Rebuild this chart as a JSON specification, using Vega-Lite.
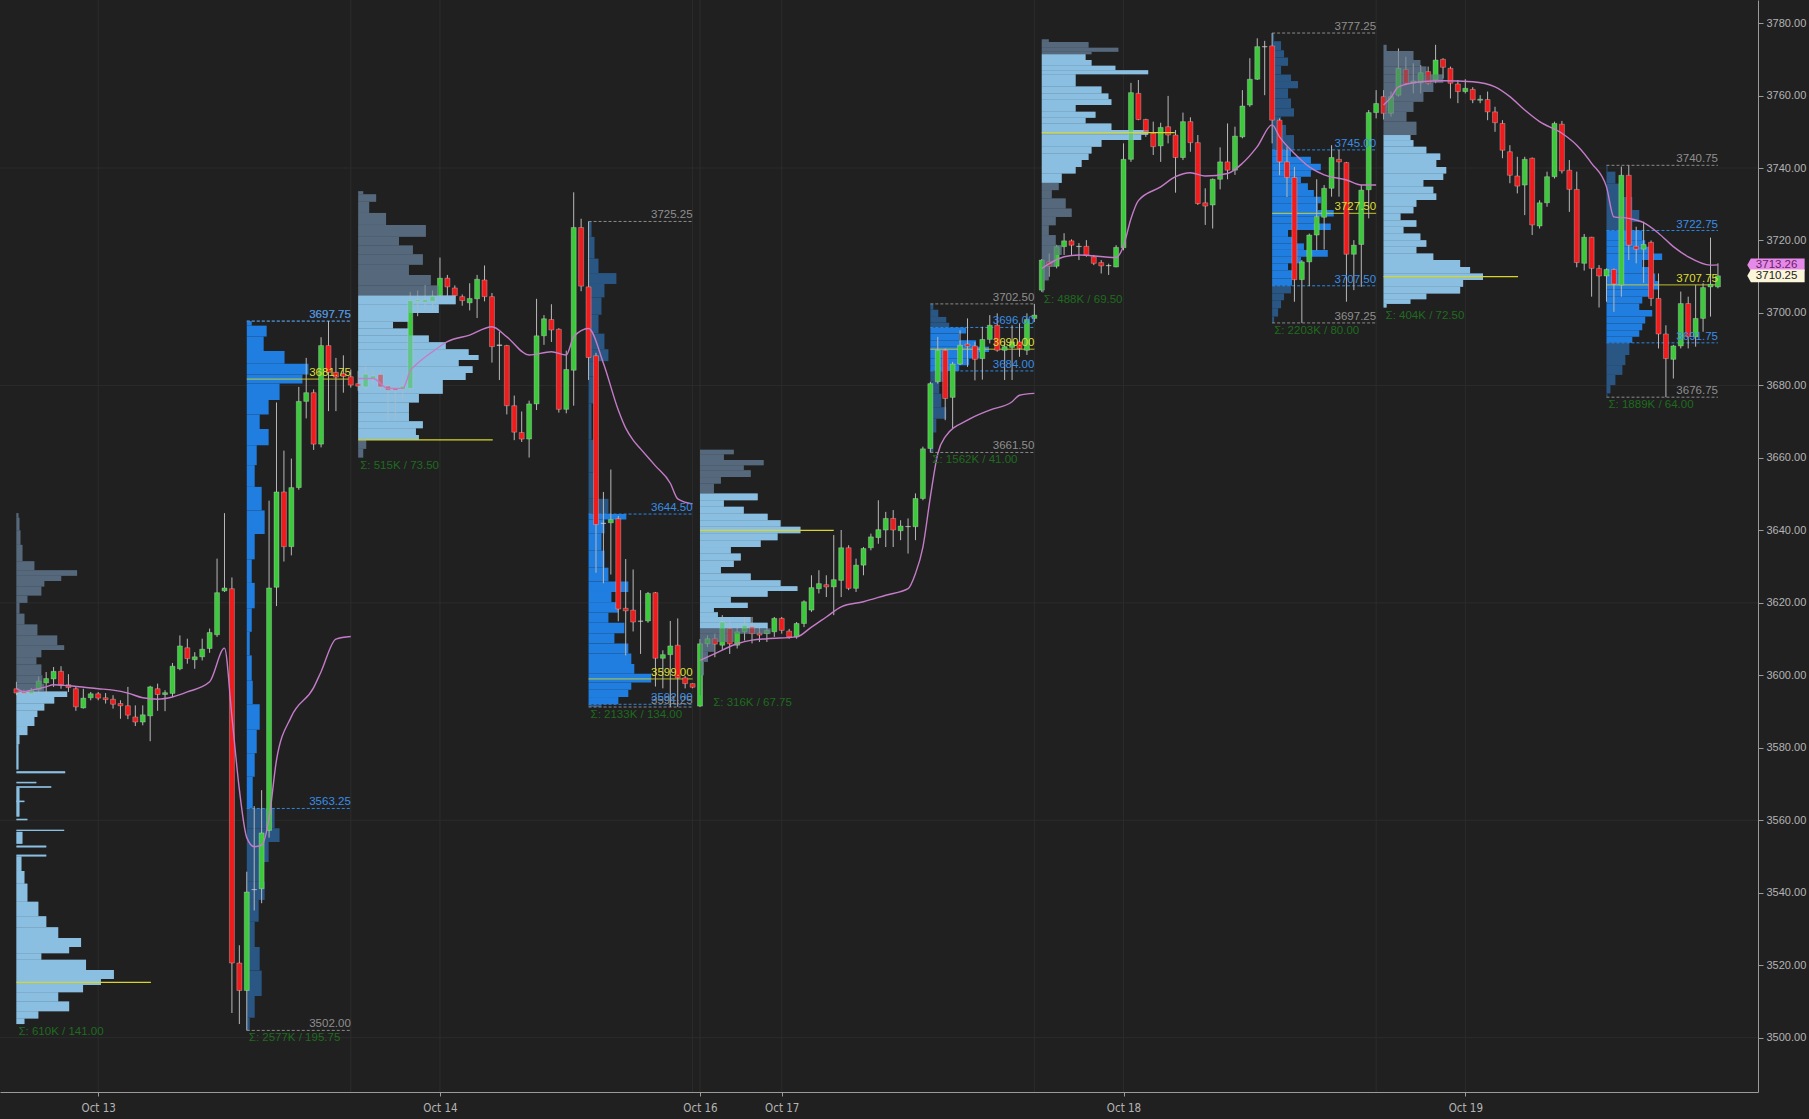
{
  "$schema": "https://vega.github.io/schema/vega-lite/v6.json",
  "width": 1758,
  "height": 1092,
  "autosize": {"type": "none"},
  "padding": {"left": 0, "top": 0, "right": 51, "bottom": 27},
  "background": "#202020",
  "config": {"view": {"stroke": null}},
  "datasets": {
    "candles": [
      {"i":0,"o":3596.3,"h":3598.2,"l":3594.5,"c":3595.1},
      {"i":1,"o":3595.5,"h":3596.0,"l":3594.5,"c":3595.0},
      {"i":2,"o":3594.9,"h":3596.5,"l":3594.5,"c":3595.8},
      {"i":3,"o":3596.0,"h":3599.7,"l":3595.0,"c":3598.4},
      {"i":4,"o":3597.9,"h":3600.9,"l":3594.5,"c":3599.1},
      {"i":5,"o":3599.0,"h":3602.3,"l":3596.8,"c":3601.1},
      {"i":6,"o":3601.1,"h":3602.5,"l":3596.3,"c":3597.4},
      {"i":7,"o":3597.4,"h":3600.3,"l":3595.4,"c":3596.6},
      {"i":8,"o":3596.3,"h":3596.8,"l":3590.2,"c":3591.3},
      {"i":9,"o":3591.0,"h":3596.3,"l":3590.8,"c":3593.7},
      {"i":10,"o":3593.8,"h":3595.4,"l":3593.1,"c":3594.9},
      {"i":11,"o":3594.9,"h":3595.4,"l":3593.1,"c":3593.7},
      {"i":12,"o":3593.8,"h":3595.1,"l":3592.2,"c":3593.3},
      {"i":13,"o":3593.4,"h":3594.5,"l":3590.8,"c":3592.0},
      {"i":14,"o":3592.2,"h":3593.1,"l":3588.0,"c":3591.6},
      {"i":15,"o":3591.6,"h":3596.8,"l":3587.9,"c":3589.0},
      {"i":16,"o":3588.5,"h":3591.7,"l":3586.0,"c":3587.1},
      {"i":17,"o":3587.1,"h":3591.7,"l":3586.2,"c":3589.1},
      {"i":18,"o":3588.8,"h":3597.1,"l":3581.8,"c":3596.8},
      {"i":19,"o":3596.3,"h":3597.7,"l":3590.2,"c":3594.7},
      {"i":20,"o":3594.7,"h":3595.9,"l":3590.1,"c":3595.2},
      {"i":21,"o":3595.0,"h":3603.4,"l":3594.0,"c":3602.5},
      {"i":22,"o":3601.8,"h":3611.0,"l":3601.4,"c":3608.1},
      {"i":23,"o":3607.6,"h":3610.1,"l":3603.2,"c":3604.6},
      {"i":24,"o":3604.3,"h":3606.4,"l":3601.8,"c":3605.1},
      {"i":25,"o":3605.1,"h":3610.1,"l":3604.1,"c":3607.2},
      {"i":26,"o":3607.4,"h":3612.9,"l":3606.2,"c":3611.8},
      {"i":27,"o":3611.2,"h":3632.2,"l":3610.6,"c":3622.8},
      {"i":28,"o":3623.3,"h":3644.75,"l":3623.0,"c":3624.1},
      {"i":29,"o":3623.9,"h":3627.0,"l":3506.8,"c":3520.6},
      {"i":30,"o":3520.6,"h":3525.5,"l":3503.75,"c":3513.0},
      {"i":31,"o":3513.0,"h":3545.8,"l":3502.0,"c":3540.2},
      {"i":32,"o":3540.8,"h":3563.9,"l":3535.1,"c":3540.9},
      {"i":33,"o":3541.1,"h":3568.3,"l":3537.1,"c":3556.5},
      {"i":34,"o":3557.2,"h":3648.2,"l":3555.2,"c":3624.1},
      {"i":35,"o":3624.3,"h":3675.3,"l":3619.1,"c":3650.6},
      {"i":36,"o":3650.6,"h":3662.0,"l":3631.4,"c":3635.5},
      {"i":37,"o":3635.5,"h":3659.8,"l":3633.1,"c":3651.8},
      {"i":38,"o":3651.8,"h":3679.6,"l":3651.2,"c":3675.6},
      {"i":39,"o":3675.6,"h":3687.6,"l":3670.9,"c":3678.0},
      {"i":40,"o":3678.0,"h":3678.9,"l":3662.2,"c":3663.8},
      {"i":41,"o":3663.8,"h":3693.3,"l":3662.9,"c":3691.0},
      {"i":42,"o":3691.0,"h":3697.75,"l":3672.9,"c":3683.6},
      {"i":43,"o":3683.6,"h":3687.6,"l":3672.9,"c":3682.3},
      {"i":44,"o":3683.3,"h":3688.3,"l":3678.0,"c":3682.5},
      {"i":45,"o":3682.4,"h":3684.4,"l":3679.4,"c":3680.1},
      {"i":46,"o":3680.5,"h":3684.0,"l":3678.5,"c":3679.8},
      {"i":47,"o":3679.6,"h":3685.3,"l":3678.7,"c":3683.1},
      {"i":48,"o":3681.8,"h":3684.5,"l":3680.0,"c":3682.6},
      {"i":49,"o":3683.0,"h":3684.0,"l":3678.7,"c":3679.6},
      {"i":50,"o":3679.8,"h":3680.5,"l":3670.1,"c":3678.7},
      {"i":51,"o":3679.2,"h":3680.0,"l":3670.6,"c":3678.7},
      {"i":52,"o":3678.9,"h":3683.0,"l":3675.8,"c":3679.8},
      {"i":53,"o":3679.2,"h":3705.8,"l":3678.7,"c":3703.4},
      {"i":54,"o":3703.2,"h":3706.2,"l":3699.1,"c":3703.6},
      {"i":55,"o":3703.0,"h":3707.7,"l":3701.0,"c":3703.6},
      {"i":56,"o":3703.2,"h":3706.2,"l":3700.7,"c":3704.6},
      {"i":57,"o":3704.8,"h":3715.3,"l":3704.3,"c":3709.6},
      {"i":58,"o":3709.6,"h":3710.5,"l":3704.3,"c":3707.2},
      {"i":59,"o":3706.9,"h":3707.6,"l":3704.3,"c":3704.8},
      {"i":60,"o":3704.5,"h":3705.1,"l":3702.0,"c":3703.4},
      {"i":61,"o":3702.8,"h":3708.2,"l":3700.7,"c":3704.0},
      {"i":62,"o":3703.9,"h":3710.5,"l":3698.6,"c":3709.3},
      {"i":63,"o":3709.1,"h":3713.1,"l":3703.2,"c":3704.5},
      {"i":64,"o":3704.5,"h":3705.5,"l":3686.3,"c":3690.7},
      {"i":65,"o":3691.0,"h":3694.8,"l":3681.5,"c":3691.2},
      {"i":66,"o":3691.0,"h":3691.2,"l":3672.0,"c":3674.4},
      {"i":67,"o":3674.4,"h":3677.2,"l":3664.9,"c":3667.1},
      {"i":68,"o":3667.0,"h":3672.8,"l":3664.4,"c":3665.2},
      {"i":69,"o":3665.2,"h":3675.8,"l":3660.1,"c":3674.9},
      {"i":70,"o":3674.9,"h":3703.9,"l":3673.2,"c":3693.7},
      {"i":71,"o":3693.7,"h":3699.4,"l":3691.2,"c":3698.4},
      {"i":72,"o":3698.2,"h":3702.4,"l":3692.0,"c":3695.3},
      {"i":73,"o":3695.5,"h":3695.8,"l":3672.5,"c":3673.4},
      {"i":74,"o":3673.4,"h":3689.6,"l":3672.3,"c":3684.4},
      {"i":75,"o":3684.2,"h":3733.3,"l":3674.4,"c":3723.6},
      {"i":76,"o":3723.6,"h":3726.0,"l":3706.0,"c":3707.4},
      {"i":77,"o":3707.2,"h":3725.25,"l":3681.5,"c":3687.7},
      {"i":78,"o":3688.2,"h":3689.0,"l":3628.3,"c":3641.6},
      {"i":79,"o":3641.9,"h":3650.6,"l":3625.4,"c":3642.0},
      {"i":80,"o":3642.1,"h":3656.8,"l":3627.8,"c":3643.0},
      {"i":81,"o":3643.2,"h":3644.0,"l":3614.9,"c":3618.3},
      {"i":82,"o":3618.5,"h":3632.1,"l":3605.5,"c":3617.8},
      {"i":83,"o":3618.0,"h":3629.2,"l":3612.1,"c":3614.7},
      {"i":84,"o":3615.0,"h":3623.5,"l":3605.9,"c":3614.9},
      {"i":85,"o":3615.0,"h":3623.0,"l":3614.5,"c":3622.6},
      {"i":86,"o":3622.8,"h":3623.0,"l":3596.9,"c":3604.7},
      {"i":87,"o":3604.7,"h":3606.9,"l":3596.4,"c":3605.7},
      {"i":88,"o":3605.7,"h":3615.0,"l":3591.25,"c":3608.1},
      {"i":89,"o":3608.3,"h":3615.7,"l":3591.3,"c":3599.3},
      {"i":90,"o":3599.3,"h":3599.8,"l":3596.4,"c":3597.7},
      {"i":91,"o":3597.7,"h":3597.8,"l":3596.4,"c":3596.7},
      {"i":92,"o":3591.5,"h":3610.0,"l":3591.25,"c":3608.7},
      {"i":93,"o":3608.7,"h":3611.0,"l":3607.8,"c":3610.1},
      {"i":94,"o":3610.1,"h":3611.5,"l":3605.0,"c":3608.6},
      {"i":95,"o":3608.3,"h":3616.6,"l":3607.0,"c":3614.7},
      {"i":96,"o":3612.9,"h":3615.3,"l":3605.9,"c":3608.7},
      {"i":97,"o":3608.3,"h":3613.8,"l":3607.4,"c":3612.0},
      {"i":98,"o":3612.0,"h":3616.1,"l":3609.6,"c":3613.8},
      {"i":99,"o":3613.4,"h":3616.1,"l":3608.8,"c":3611.5},
      {"i":100,"o":3611.6,"h":3613.3,"l":3609.2,"c":3611.1},
      {"i":101,"o":3611.5,"h":3613.3,"l":3609.2,"c":3612.4},
      {"i":102,"o":3612.0,"h":3616.1,"l":3610.6,"c":3615.7},
      {"i":103,"o":3615.7,"h":3616.1,"l":3611.5,"c":3612.4},
      {"i":104,"o":3612.2,"h":3612.8,"l":3610.1,"c":3610.6},
      {"i":105,"o":3610.6,"h":3614.7,"l":3610.1,"c":3614.3},
      {"i":106,"o":3614.3,"h":3620.7,"l":3613.3,"c":3620.3},
      {"i":107,"o":3618.0,"h":3627.6,"l":3617.5,"c":3624.2},
      {"i":108,"o":3623.9,"h":3629.0,"l":3622.6,"c":3625.3},
      {"i":109,"o":3625.0,"h":3627.6,"l":3621.6,"c":3624.4},
      {"i":110,"o":3624.4,"h":3638.7,"l":3616.6,"c":3626.4},
      {"i":111,"o":3626.2,"h":3640.1,"l":3621.6,"c":3635.2},
      {"i":112,"o":3635.2,"h":3635.9,"l":3623.5,"c":3624.0},
      {"i":113,"o":3624.0,"h":3632.2,"l":3623.0,"c":3630.4},
      {"i":114,"o":3630.4,"h":3635.4,"l":3627.6,"c":3635.0},
      {"i":115,"o":3635.2,"h":3639.1,"l":3634.5,"c":3638.2},
      {"i":116,"o":3638.0,"h":3648.3,"l":3636.3,"c":3640.2},
      {"i":117,"o":3640.1,"h":3645.1,"l":3635.4,"c":3643.3},
      {"i":118,"o":3643.3,"h":3645.6,"l":3635.4,"c":3640.1},
      {"i":119,"o":3639.9,"h":3642.8,"l":3637.3,"c":3641.2},
      {"i":120,"o":3641.1,"h":3643.3,"l":3633.6,"c":3641.0},
      {"i":121,"o":3641.0,"h":3650.2,"l":3637.3,"c":3648.8},
      {"i":122,"o":3648.8,"h":3663.1,"l":3648.3,"c":3662.5},
      {"i":123,"o":3662.6,"h":3681.0,"l":3661.5,"c":3680.5},
      {"i":124,"o":3681.0,"h":3693.4,"l":3680.5,"c":3689.7},
      {"i":125,"o":3689.7,"h":3690.2,"l":3670.4,"c":3676.4},
      {"i":126,"o":3676.7,"h":3686.5,"l":3668.1,"c":3685.9},
      {"i":127,"o":3685.9,"h":3695.2,"l":3685.6,"c":3691.1},
      {"i":128,"o":3691.4,"h":3698.5,"l":3685.1,"c":3690.8},
      {"i":129,"o":3690.9,"h":3692.0,"l":3681.4,"c":3687.2},
      {"i":130,"o":3687.4,"h":3696.2,"l":3681.6,"c":3692.7},
      {"i":131,"o":3692.7,"h":3699.4,"l":3691.6,"c":3696.6},
      {"i":132,"o":3696.6,"h":3699.9,"l":3689.3,"c":3689.7},
      {"i":133,"o":3689.7,"h":3692.5,"l":3681.5,"c":3690.7},
      {"i":134,"o":3690.5,"h":3696.6,"l":3681.5,"c":3692.0},
      {"i":135,"o":3692.0,"h":3697.1,"l":3687.9,"c":3690.2},
      {"i":136,"o":3689.7,"h":3699.9,"l":3688.4,"c":3698.2},
      {"i":137,"o":3698.5,"h":3702.5,"l":3697.5,"c":3699.4},
      {"i":138,"o":3706.3,"h":3714.9,"l":3705.8,"c":3714.6},
      {"i":139,"o":3714.1,"h":3716.4,"l":3710.0,"c":3712.9},
      {"i":140,"o":3712.9,"h":3718.8,"l":3712.3,"c":3718.3},
      {"i":141,"o":3718.3,"h":3722.0,"l":3716.0,"c":3719.9},
      {"i":142,"o":3719.9,"h":3720.3,"l":3716.0,"c":3718.7},
      {"i":143,"o":3718.4,"h":3719.3,"l":3714.6,"c":3718.3},
      {"i":144,"o":3718.4,"h":3720.1,"l":3715.5,"c":3715.9},
      {"i":145,"o":3715.5,"h":3716.0,"l":3713.2,"c":3713.7},
      {"i":146,"o":3713.9,"h":3714.6,"l":3710.9,"c":3713.0},
      {"i":147,"o":3713.1,"h":3713.6,"l":3710.5,"c":3713.0},
      {"i":148,"o":3712.7,"h":3718.7,"l":3712.6,"c":3718.1},
      {"i":149,"o":3718.0,"h":3746.8,"l":3717.3,"c":3742.4},
      {"i":150,"o":3742.4,"h":3763.5,"l":3741.7,"c":3760.8},
      {"i":151,"o":3760.6,"h":3764.3,"l":3753.2,"c":3753.4},
      {"i":152,"o":3753.4,"h":3753.6,"l":3748.6,"c":3749.6},
      {"i":153,"o":3749.6,"h":3752.8,"l":3743.6,"c":3745.9},
      {"i":154,"o":3746.1,"h":3752.5,"l":3741.7,"c":3751.2},
      {"i":155,"o":3751.4,"h":3759.9,"l":3746.8,"c":3749.1},
      {"i":156,"o":3749.1,"h":3750.5,"l":3733.2,"c":3742.9},
      {"i":157,"o":3742.9,"h":3755.3,"l":3742.2,"c":3752.8},
      {"i":158,"o":3752.8,"h":3754.0,"l":3744.5,"c":3747.0},
      {"i":159,"o":3747.0,"h":3749.1,"l":3729.8,"c":3730.2},
      {"i":160,"o":3730.4,"h":3734.4,"l":3724.3,"c":3729.5},
      {"i":161,"o":3729.8,"h":3737.1,"l":3723.3,"c":3736.9},
      {"i":162,"o":3736.9,"h":3745.7,"l":3734.1,"c":3741.7},
      {"i":163,"o":3741.7,"h":3752.3,"l":3736.9,"c":3739.4},
      {"i":164,"o":3739.4,"h":3751.4,"l":3738.1,"c":3748.8},
      {"i":165,"o":3748.6,"h":3761.5,"l":3748.2,"c":3757.1},
      {"i":166,"o":3757.4,"h":3770.3,"l":3756.9,"c":3764.5},
      {"i":167,"o":3764.5,"h":3775.8,"l":3764.3,"c":3773.5},
      {"i":168,"o":3773.5,"h":3775.1,"l":3760.1,"c":3773.4},
      {"i":169,"o":3773.7,"h":3777.25,"l":3746.8,"c":3753.2},
      {"i":170,"o":3753.2,"h":3753.7,"l":3738.0,"c":3741.7},
      {"i":171,"o":3741.7,"h":3745.9,"l":3732.0,"c":3737.4},
      {"i":172,"o":3737.4,"h":3740.3,"l":3703.1,"c":3709.2},
      {"i":173,"o":3709.2,"h":3714.6,"l":3697.25,"c":3714.1},
      {"i":174,"o":3714.1,"h":3721.9,"l":3707.4,"c":3721.5},
      {"i":175,"o":3721.5,"h":3736.9,"l":3717.3,"c":3726.6},
      {"i":176,"o":3726.4,"h":3735.3,"l":3717.5,"c":3734.4},
      {"i":177,"o":3734.4,"h":3746.3,"l":3732.1,"c":3742.9},
      {"i":178,"o":3742.4,"h":3745.0,"l":3732.1,"c":3741.7},
      {"i":179,"o":3741.5,"h":3741.7,"l":3703.1,"c":3716.2},
      {"i":180,"o":3716.2,"h":3720.1,"l":3706.3,"c":3718.7},
      {"i":181,"o":3718.9,"h":3735.3,"l":3707.2,"c":3733.9},
      {"i":182,"o":3734.0,"h":3756.0,"l":3726.1,"c":3755.3},
      {"i":183,"o":3755.3,"h":3761.5,"l":3753.7,"c":3757.8},
      {"i":184,"o":3759.7,"h":3761.5,"l":3753.4,"c":3755.1},
      {"i":185,"o":3755.1,"h":3761.1,"l":3754.2,"c":3759.7},
      {"i":186,"o":3760.1,"h":3773.0,"l":3759.7,"c":3767.5},
      {"i":187,"o":3767.2,"h":3770.7,"l":3762.9,"c":3763.4},
      {"i":188,"o":3763.4,"h":3768.9,"l":3760.6,"c":3764.0},
      {"i":189,"o":3763.5,"h":3768.4,"l":3760.6,"c":3766.3},
      {"i":190,"o":3766.6,"h":3768.0,"l":3762.9,"c":3763.4},
      {"i":191,"o":3764.3,"h":3774.0,"l":3763.4,"c":3769.8},
      {"i":192,"o":3770.0,"h":3770.3,"l":3764.7,"c":3767.8},
      {"i":193,"o":3767.5,"h":3768.0,"l":3759.2,"c":3763.4},
      {"i":194,"o":3763.2,"h":3764.3,"l":3757.9,"c":3761.1},
      {"i":195,"o":3761.1,"h":3764.5,"l":3760.6,"c":3762.0},
      {"i":196,"o":3761.7,"h":3762.3,"l":3757.9,"c":3758.8},
      {"i":197,"o":3758.7,"h":3760.1,"l":3757.9,"c":3759.0},
      {"i":198,"o":3758.9,"h":3761.1,"l":3753.2,"c":3755.5},
      {"i":199,"o":3755.5,"h":3756.9,"l":3750.0,"c":3752.5},
      {"i":200,"o":3752.3,"h":3753.2,"l":3742.7,"c":3744.9},
      {"i":201,"o":3744.5,"h":3746.3,"l":3735.8,"c":3738.0},
      {"i":202,"o":3737.8,"h":3743.1,"l":3733.0,"c":3735.0},
      {"i":203,"o":3735.3,"h":3743.1,"l":3727.0,"c":3742.4},
      {"i":204,"o":3742.7,"h":3742.9,"l":3721.5,"c":3724.3},
      {"i":205,"o":3724.0,"h":3731.1,"l":3723.3,"c":3730.4},
      {"i":206,"o":3730.4,"h":3739.0,"l":3729.3,"c":3737.6},
      {"i":207,"o":3737.6,"h":3752.8,"l":3737.1,"c":3752.3},
      {"i":208,"o":3752.1,"h":3753.0,"l":3738.5,"c":3739.2},
      {"i":209,"o":3739.4,"h":3742.2,"l":3727.9,"c":3734.1},
      {"i":210,"o":3734.1,"h":3739.0,"l":3712.6,"c":3713.9},
      {"i":211,"o":3713.7,"h":3721.8,"l":3711.7,"c":3720.9},
      {"i":212,"o":3720.9,"h":3721.0,"l":3704.5,"c":3712.3},
      {"i":213,"o":3712.3,"h":3713.2,"l":3701.5,"c":3710.2},
      {"i":214,"o":3710.2,"h":3712.3,"l":3703.1,"c":3712.0},
      {"i":215,"o":3712.0,"h":3712.3,"l":3700.3,"c":3708.0},
      {"i":216,"o":3707.7,"h":3740.4,"l":3704.5,"c":3738.0},
      {"i":217,"o":3738.0,"h":3740.75,"l":3714.6,"c":3718.7},
      {"i":218,"o":3718.4,"h":3723.8,"l":3713.7,"c":3717.6},
      {"i":219,"o":3717.6,"h":3725.2,"l":3708.3,"c":3718.9},
      {"i":220,"o":3719.5,"h":3720.0,"l":3701.9,"c":3704.0},
      {"i":221,"o":3704.0,"h":3710.9,"l":3690.2,"c":3694.2},
      {"i":222,"o":3694.2,"h":3696.6,"l":3676.75,"c":3687.4},
      {"i":223,"o":3687.2,"h":3691.2,"l":3681.9,"c":3690.9},
      {"i":224,"o":3690.9,"h":3705.9,"l":3690.2,"c":3702.6},
      {"i":225,"o":3702.6,"h":3704.5,"l":3690.2,"c":3693.4},
      {"i":226,"o":3693.4,"h":3707.7,"l":3690.7,"c":3698.5},
      {"i":227,"o":3698.5,"h":3708.2,"l":3694.8,"c":3707.0},
      {"i":228,"o":3707.2,"h":3720.8,"l":3699.0,"c":3707.9},
      {"i":229,"o":3707.2,"h":3713.7,"l":3706.8,"c":3710.25}
    ],
    "profile": [
      {"t0":0,"lo":3643.5,"hi":3644.75,"v":2,"z":"eth_out"},
      {"t0":0,"lo":3640,"hi":3643.5,"v":3,"z":"eth_out"},
      {"t0":0,"lo":3636,"hi":3640,"v":4,"z":"eth_out"},
      {"t0":0,"lo":3631.5,"hi":3636,"v":6,"z":"eth_out"},
      {"t0":0,"lo":3629,"hi":3631.5,"v":18,"z":"eth_out"},
      {"t0":0,"lo":3627.5,"hi":3629,"v":61,"z":"eth_out"},
      {"t0":0,"lo":3626,"hi":3627.5,"v":45,"z":"eth_out"},
      {"t0":0,"lo":3624.5,"hi":3626,"v":28,"z":"eth_out"},
      {"t0":0,"lo":3622,"hi":3624.5,"v":25,"z":"eth_out"},
      {"t0":0,"lo":3620,"hi":3622,"v":11,"z":"eth_out"},
      {"t0":0,"lo":3617,"hi":3620,"v":3,"z":"eth_out"},
      {"t0":0,"lo":3614,"hi":3617,"v":8,"z":"eth_out"},
      {"t0":0,"lo":3611,"hi":3614,"v":21,"z":"eth_out"},
      {"t0":0,"lo":3608.3,"hi":3611,"v":41,"z":"eth_out"},
      {"t0":0,"lo":3607,"hi":3608.3,"v":48,"z":"eth_out"},
      {"t0":0,"lo":3605,"hi":3607,"v":25,"z":"eth_out"},
      {"t0":0,"lo":3603,"hi":3605,"v":20,"z":"eth_out"},
      {"t0":0,"lo":3600,"hi":3603,"v":25,"z":"eth_out"},
      {"t0":0,"lo":3597.7,"hi":3600,"v":26,"z":"eth_out"},
      {"t0":0,"lo":3595.5,"hi":3597.7,"v":28,"z":"eth_out"},
      {"t0":0,"lo":3594,"hi":3595.5,"v":51,"z":"eth_va"},
      {"t0":0,"lo":3592.2,"hi":3594,"v":38,"z":"eth_va"},
      {"t0":0,"lo":3590.3,"hi":3592.2,"v":28,"z":"eth_va"},
      {"t0":0,"lo":3588.5,"hi":3590.3,"v":21,"z":"eth_va"},
      {"t0":0,"lo":3586,"hi":3588.5,"v":18,"z":"eth_va"},
      {"t0":0,"lo":3583.5,"hi":3586,"v":11,"z":"eth_va"},
      {"t0":0,"lo":3581,"hi":3583.5,"v":3,"z":"eth_va"},
      {"t0":0,"lo":3574,"hi":3581,"v":2,"z":"eth_va"},
      {"t0":0,"lo":3573,"hi":3573.5,"v":49,"z":"eth_va"},
      {"t0":0,"lo":3570.2,"hi":3570.6,"v":20,"z":"eth_va"},
      {"t0":0,"lo":3569,"hi":3569.4,"v":35,"z":"eth_va"},
      {"t0":0,"lo":3561,"hi":3569,"v":3,"z":"eth_va"},
      {"t0":0,"lo":3565,"hi":3565.4,"v":8,"z":"eth_va"},
      {"t0":0,"lo":3560,"hi":3560.4,"v":11,"z":"eth_va"},
      {"t0":0,"lo":3557,"hi":3557.4,"v":48,"z":"eth_va"},
      {"t0":0,"lo":3553.5,"hi":3556.8,"v":6,"z":"eth_va"},
      {"t0":0,"lo":3552.5,"hi":3553,"v":30,"z":"eth_va"},
      {"t0":0,"lo":3550,"hi":3550.5,"v":30,"z":"eth_va"},
      {"t0":0,"lo":3546,"hi":3550,"v":5,"z":"eth_va"},
      {"t0":0,"lo":3542.5,"hi":3546,"v":8,"z":"eth_va"},
      {"t0":0,"lo":3537.5,"hi":3542.5,"v":11,"z":"eth_va"},
      {"t0":0,"lo":3533.5,"hi":3537.5,"v":22,"z":"eth_va"},
      {"t0":0,"lo":3530.5,"hi":3533.5,"v":30,"z":"eth_va"},
      {"t0":0,"lo":3527.5,"hi":3530.5,"v":42,"z":"eth_va"},
      {"t0":0,"lo":3525,"hi":3527.5,"v":65,"z":"eth_va"},
      {"t0":0,"lo":3523.3,"hi":3525,"v":53,"z":"eth_va"},
      {"t0":0,"lo":3521.5,"hi":3523.3,"v":25,"z":"eth_va"},
      {"t0":0,"lo":3518.7,"hi":3521.5,"v":70,"z":"eth_va"},
      {"t0":0,"lo":3516.2,"hi":3518.7,"v":98,"z":"eth_va"},
      {"t0":0,"lo":3514.5,"hi":3516.2,"v":85,"z":"eth_va"},
      {"t0":0,"lo":3512.5,"hi":3514.5,"v":67,"z":"eth_va"},
      {"t0":0,"lo":3510,"hi":3512.5,"v":42,"z":"eth_va"},
      {"t0":0,"lo":3507.3,"hi":3510,"v":53,"z":"eth_va"},
      {"t0":0,"lo":3505.3,"hi":3507.3,"v":22,"z":"eth_va"},
      {"t0":0,"lo":3503.75,"hi":3505.3,"v":8,"z":"eth_va"},

      {"t0":31,"lo":3696.5,"hi":3697.75,"v":5,"z":"rth_va"},
      {"t0":31,"lo":3693.5,"hi":3696.5,"v":20,"z":"rth_va"},
      {"t0":31,"lo":3689.5,"hi":3693.5,"v":17,"z":"rth_va"},
      {"t0":31,"lo":3686,"hi":3689.5,"v":38,"z":"rth_va"},
      {"t0":31,"lo":3683,"hi":3686,"v":62,"z":"rth_va"},
      {"t0":31,"lo":3680.5,"hi":3683,"v":56,"z":"rth_va"},
      {"t0":31,"lo":3676,"hi":3680.5,"v":33,"z":"rth_va"},
      {"t0":31,"lo":3672,"hi":3676,"v":22,"z":"rth_va"},
      {"t0":31,"lo":3668,"hi":3672,"v":13,"z":"rth_va"},
      {"t0":31,"lo":3663.5,"hi":3668,"v":22,"z":"rth_va"},
      {"t0":31,"lo":3658,"hi":3663.5,"v":10,"z":"rth_va"},
      {"t0":31,"lo":3652,"hi":3658,"v":8,"z":"rth_va"},
      {"t0":31,"lo":3645.5,"hi":3652,"v":15,"z":"rth_va"},
      {"t0":31,"lo":3639,"hi":3645.5,"v":18,"z":"rth_va"},
      {"t0":31,"lo":3632,"hi":3639,"v":8,"z":"rth_va"},
      {"t0":31,"lo":3625.5,"hi":3632,"v":5,"z":"rth_va"},
      {"t0":31,"lo":3618.5,"hi":3625.5,"v":8,"z":"rth_va"},
      {"t0":31,"lo":3612,"hi":3618.5,"v":5,"z":"rth_va"},
      {"t0":31,"lo":3605.5,"hi":3612,"v":3,"z":"rth_va"},
      {"t0":31,"lo":3598.5,"hi":3605.5,"v":5,"z":"rth_va"},
      {"t0":31,"lo":3592,"hi":3598.5,"v":6,"z":"rth_va"},
      {"t0":31,"lo":3585,"hi":3592,"v":13,"z":"rth_va"},
      {"t0":31,"lo":3578.5,"hi":3585,"v":10,"z":"rth_va"},
      {"t0":31,"lo":3572,"hi":3578.5,"v":8,"z":"rth_va"},
      {"t0":31,"lo":3563.25,"hi":3572,"v":6,"z":"rth_va"},
      {"t0":31,"lo":3557.8,"hi":3563.25,"v":28,"z":"rth_out"},
      {"t0":31,"lo":3554,"hi":3557.8,"v":33,"z":"rth_out"},
      {"t0":31,"lo":3548.5,"hi":3554,"v":22,"z":"rth_out"},
      {"t0":31,"lo":3543,"hi":3548.5,"v":15,"z":"rth_out"},
      {"t0":31,"lo":3538,"hi":3543,"v":18,"z":"rth_out"},
      {"t0":31,"lo":3532,"hi":3538,"v":12,"z":"rth_out"},
      {"t0":31,"lo":3525,"hi":3532,"v":8,"z":"rth_out"},
      {"t0":31,"lo":3518.5,"hi":3525,"v":13,"z":"rth_out"},
      {"t0":31,"lo":3511.5,"hi":3518.5,"v":15,"z":"rth_out"},
      {"t0":31,"lo":3505.5,"hi":3511.5,"v":8,"z":"rth_out"},
      {"t0":31,"lo":3502,"hi":3505.5,"v":3,"z":"rth_out"},

      {"t0":46,"lo":3732.75,"hi":3733.6,"v":5,"z":"eth_out"},
      {"t0":46,"lo":3730.7,"hi":3732.75,"v":18,"z":"eth_out"},
      {"t0":46,"lo":3727.6,"hi":3730.7,"v":11,"z":"eth_out"},
      {"t0":46,"lo":3724.3,"hi":3727.6,"v":28,"z":"eth_out"},
      {"t0":46,"lo":3721,"hi":3724.3,"v":68,"z":"eth_out"},
      {"t0":46,"lo":3718.6,"hi":3721,"v":41,"z":"eth_out"},
      {"t0":46,"lo":3716.2,"hi":3718.6,"v":55,"z":"eth_out"},
      {"t0":46,"lo":3713.3,"hi":3716.2,"v":65,"z":"eth_out"},
      {"t0":46,"lo":3710.5,"hi":3713.3,"v":51,"z":"eth_out"},
      {"t0":46,"lo":3707.6,"hi":3710.5,"v":73,"z":"eth_out"},
      {"t0":46,"lo":3704.8,"hi":3707.6,"v":81,"z":"eth_out"},
      {"t0":46,"lo":3702.4,"hi":3704.8,"v":98,"z":"eth_va"},
      {"t0":46,"lo":3700,"hi":3702.4,"v":81,"z":"eth_va"},
      {"t0":46,"lo":3697.6,"hi":3700,"v":51,"z":"eth_va"},
      {"t0":46,"lo":3695.7,"hi":3697.6,"v":35,"z":"eth_va"},
      {"t0":46,"lo":3693.8,"hi":3695.7,"v":51,"z":"eth_va"},
      {"t0":46,"lo":3691.9,"hi":3693.8,"v":71,"z":"eth_va"},
      {"t0":46,"lo":3690,"hi":3691.9,"v":88,"z":"eth_va"},
      {"t0":46,"lo":3688.4,"hi":3690,"v":111,"z":"eth_va"},
      {"t0":46,"lo":3687,"hi":3688.4,"v":121,"z":"eth_va"},
      {"t0":46,"lo":3685.3,"hi":3687,"v":101,"z":"eth_va"},
      {"t0":46,"lo":3683.4,"hi":3685.3,"v":115,"z":"eth_va"},
      {"t0":46,"lo":3681.5,"hi":3683.4,"v":108,"z":"eth_va"},
      {"t0":46,"lo":3679.6,"hi":3681.5,"v":85,"z":"eth_va"},
      {"t0":46,"lo":3677.7,"hi":3679.6,"v":85,"z":"eth_va"},
      {"t0":46,"lo":3675.3,"hi":3677.7,"v":61,"z":"eth_va"},
      {"t0":46,"lo":3672.5,"hi":3675.3,"v":51,"z":"eth_va"},
      {"t0":46,"lo":3670.1,"hi":3672.5,"v":51,"z":"eth_va"},
      {"t0":46,"lo":3668.2,"hi":3670.1,"v":65,"z":"eth_va"},
      {"t0":46,"lo":3666.3,"hi":3668.2,"v":58,"z":"eth_va"},
      {"t0":46,"lo":3665,"hi":3666.3,"v":61,"z":"eth_va"},
      {"t0":46,"lo":3662.5,"hi":3665,"v":8,"z":"eth_out"},
      {"t0":46,"lo":3660.1,"hi":3662.5,"v":5,"z":"eth_out"},

      {"t0":77,"lo":3721,"hi":3725.25,"v":3,"z":"rth_out"},
      {"t0":77,"lo":3715,"hi":3721,"v":6,"z":"rth_out"},
      {"t0":77,"lo":3711,"hi":3715,"v":10,"z":"rth_out"},
      {"t0":77,"lo":3708,"hi":3711,"v":28,"z":"rth_out"},
      {"t0":77,"lo":3704.3,"hi":3708,"v":16,"z":"rth_out"},
      {"t0":77,"lo":3699.5,"hi":3704.3,"v":13,"z":"rth_out"},
      {"t0":77,"lo":3694.3,"hi":3699.5,"v":10,"z":"rth_out"},
      {"t0":77,"lo":3690,"hi":3694.3,"v":16,"z":"rth_out"},
      {"t0":77,"lo":3686.7,"hi":3690,"v":20,"z":"rth_out"},
      {"t0":77,"lo":3682.5,"hi":3686.7,"v":6,"z":"rth_out"},
      {"t0":77,"lo":3675,"hi":3682.5,"v":5,"z":"rth_out"},
      {"t0":77,"lo":3665,"hi":3675,"v":3,"z":"rth_out"},
      {"t0":77,"lo":3656,"hi":3665,"v":5,"z":"rth_out"},
      {"t0":77,"lo":3648.7,"hi":3656,"v":6,"z":"rth_out"},
      {"t0":77,"lo":3644.5,"hi":3648.7,"v":20,"z":"rth_out"},
      {"t0":77,"lo":3643,"hi":3644.5,"v":38,"z":"rth_va"},
      {"t0":77,"lo":3639.2,"hi":3643,"v":16,"z":"rth_va"},
      {"t0":77,"lo":3634.4,"hi":3639.2,"v":13,"z":"rth_va"},
      {"t0":77,"lo":3629.7,"hi":3634.4,"v":16,"z":"rth_va"},
      {"t0":77,"lo":3625.9,"hi":3629.7,"v":20,"z":"rth_va"},
      {"t0":77,"lo":3623,"hi":3625.9,"v":40,"z":"rth_va"},
      {"t0":77,"lo":3620.2,"hi":3623,"v":23,"z":"rth_va"},
      {"t0":77,"lo":3617.3,"hi":3620.2,"v":30,"z":"rth_va"},
      {"t0":77,"lo":3614.5,"hi":3617.3,"v":20,"z":"rth_va"},
      {"t0":77,"lo":3611.6,"hi":3614.5,"v":36,"z":"rth_va"},
      {"t0":77,"lo":3608.8,"hi":3611.6,"v":26,"z":"rth_va"},
      {"t0":77,"lo":3606,"hi":3608.8,"v":40,"z":"rth_va"},
      {"t0":77,"lo":3603.1,"hi":3606,"v":43,"z":"rth_va"},
      {"t0":77,"lo":3600.4,"hi":3603.1,"v":46,"z":"rth_va"},
      {"t0":77,"lo":3598,"hi":3600.4,"v":63,"z":"rth_va"},
      {"t0":77,"lo":3596,"hi":3598,"v":43,"z":"rth_va"},
      {"t0":77,"lo":3594,"hi":3596,"v":40,"z":"rth_va"},
      {"t0":77,"lo":3592,"hi":3594,"v":30,"z":"rth_va"},
      {"t0":77,"lo":3591.25,"hi":3592,"v":13,"z":"rth_out"},

      {"t0":92,"lo":3661,"hi":3662.25,"v":34,"z":"eth_out"},
      {"t0":92,"lo":3659.4,"hi":3661,"v":24,"z":"eth_out"},
      {"t0":92,"lo":3658,"hi":3659.4,"v":64,"z":"eth_out"},
      {"t0":92,"lo":3656.6,"hi":3658,"v":44,"z":"eth_out"},
      {"t0":92,"lo":3654.7,"hi":3656.6,"v":51,"z":"eth_out"},
      {"t0":92,"lo":3652.9,"hi":3654.7,"v":21,"z":"eth_out"},
      {"t0":92,"lo":3650.2,"hi":3652.9,"v":14,"z":"eth_out"},
      {"t0":92,"lo":3648.3,"hi":3650.2,"v":58,"z":"eth_va"},
      {"t0":92,"lo":3646.5,"hi":3648.3,"v":24,"z":"eth_va"},
      {"t0":92,"lo":3644.6,"hi":3646.5,"v":44,"z":"eth_va"},
      {"t0":92,"lo":3642.8,"hi":3644.6,"v":68,"z":"eth_va"},
      {"t0":92,"lo":3641,"hi":3642.8,"v":81,"z":"eth_va"},
      {"t0":92,"lo":3639.2,"hi":3641,"v":101,"z":"eth_va"},
      {"t0":92,"lo":3637.3,"hi":3639.2,"v":78,"z":"eth_va"},
      {"t0":92,"lo":3635.4,"hi":3637.3,"v":61,"z":"eth_va"},
      {"t0":92,"lo":3633.6,"hi":3635.4,"v":31,"z":"eth_va"},
      {"t0":92,"lo":3631.7,"hi":3633.6,"v":41,"z":"eth_va"},
      {"t0":92,"lo":3629.9,"hi":3631.7,"v":34,"z":"eth_va"},
      {"t0":92,"lo":3628.1,"hi":3629.9,"v":21,"z":"eth_va"},
      {"t0":92,"lo":3626.2,"hi":3628.1,"v":51,"z":"eth_va"},
      {"t0":92,"lo":3624.6,"hi":3626.2,"v":81,"z":"eth_va"},
      {"t0":92,"lo":3623.3,"hi":3624.6,"v":98,"z":"eth_va"},
      {"t0":92,"lo":3621.7,"hi":3623.3,"v":68,"z":"eth_va"},
      {"t0":92,"lo":3620,"hi":3621.7,"v":31,"z":"eth_va"},
      {"t0":92,"lo":3618.6,"hi":3620,"v":48,"z":"eth_va"},
      {"t0":92,"lo":3617.4,"hi":3618.6,"v":14,"z":"eth_va"},
      {"t0":92,"lo":3616.1,"hi":3617.4,"v":18,"z":"eth_va"},
      {"t0":92,"lo":3614.5,"hi":3616.1,"v":51,"z":"eth_va"},
      {"t0":92,"lo":3612.9,"hi":3614.5,"v":68,"z":"eth_va"},
      {"t0":92,"lo":3611.5,"hi":3612.9,"v":71,"z":"eth_out"},
      {"t0":92,"lo":3609.2,"hi":3611.5,"v":34,"z":"eth_out"},
      {"t0":92,"lo":3606.5,"hi":3609.2,"v":14,"z":"eth_out"},
      {"t0":92,"lo":3603.7,"hi":3606.5,"v":8,"z":"eth_out"},
      {"t0":92,"lo":3600,"hi":3603.7,"v":4,"z":"eth_out"},
      {"t0":92,"lo":3594.5,"hi":3600,"v":1,"z":"eth_out"},

      {"t0":123,"lo":3700.9,"hi":3702.5,"v":3,"z":"rth_out"},
      {"t0":123,"lo":3698.9,"hi":3700.9,"v":8,"z":"rth_out"},
      {"t0":123,"lo":3697.3,"hi":3698.9,"v":16,"z":"rth_out"},
      {"t0":123,"lo":3696,"hi":3697.3,"v":19,"z":"rth_out"},
      {"t0":123,"lo":3694.3,"hi":3696,"v":36,"z":"rth_va"},
      {"t0":123,"lo":3692.5,"hi":3694.3,"v":29,"z":"rth_va"},
      {"t0":123,"lo":3690.7,"hi":3692.5,"v":46,"z":"rth_va"},
      {"t0":123,"lo":3689.2,"hi":3690.7,"v":59,"z":"rth_va"},
      {"t0":123,"lo":3687.4,"hi":3689.2,"v":49,"z":"rth_va"},
      {"t0":123,"lo":3685.6,"hi":3687.4,"v":39,"z":"rth_va"},
      {"t0":123,"lo":3684,"hi":3685.6,"v":29,"z":"rth_va"},
      {"t0":123,"lo":3681,"hi":3684,"v":14,"z":"rth_out"},
      {"t0":123,"lo":3677.7,"hi":3681,"v":9,"z":"rth_out"},
      {"t0":123,"lo":3674,"hi":3677.7,"v":11,"z":"rth_out"},
      {"t0":123,"lo":3670.8,"hi":3674,"v":16,"z":"rth_out"},
      {"t0":123,"lo":3667,"hi":3670.8,"v":6,"z":"rth_out"},
      {"t0":123,"lo":3661.5,"hi":3667,"v":3,"z":"rth_out"},

      {"t0":138,"lo":3774.8,"hi":3775.5,"v":7,"z":"eth_out"},
      {"t0":138,"lo":3773.2,"hi":3774.8,"v":47,"z":"eth_out"},
      {"t0":138,"lo":3772.1,"hi":3773.2,"v":77,"z":"eth_out"},
      {"t0":138,"lo":3771.4,"hi":3772.1,"v":50,"z":"eth_out"},
      {"t0":138,"lo":3769.8,"hi":3771.4,"v":44,"z":"eth_va"},
      {"t0":138,"lo":3768.2,"hi":3769.8,"v":50,"z":"eth_va"},
      {"t0":138,"lo":3767,"hi":3768.2,"v":74,"z":"eth_va"},
      {"t0":138,"lo":3765.9,"hi":3767,"v":107,"z":"eth_va"},
      {"t0":138,"lo":3764.3,"hi":3765.9,"v":34,"z":"eth_va"},
      {"t0":138,"lo":3762.5,"hi":3764.3,"v":34,"z":"eth_va"},
      {"t0":138,"lo":3760.6,"hi":3762.5,"v":60,"z":"eth_va"},
      {"t0":138,"lo":3759,"hi":3760.6,"v":67,"z":"eth_va"},
      {"t0":138,"lo":3757.4,"hi":3759,"v":70,"z":"eth_va"},
      {"t0":138,"lo":3755.5,"hi":3757.4,"v":34,"z":"eth_va"},
      {"t0":138,"lo":3753.9,"hi":3755.5,"v":54,"z":"eth_va"},
      {"t0":138,"lo":3752.3,"hi":3753.9,"v":44,"z":"eth_va"},
      {"t0":138,"lo":3750.5,"hi":3752.3,"v":70,"z":"eth_va"},
      {"t0":138,"lo":3749.2,"hi":3750.5,"v":107,"z":"eth_va"},
      {"t0":138,"lo":3747.7,"hi":3749.2,"v":100,"z":"eth_va"},
      {"t0":138,"lo":3745.9,"hi":3747.7,"v":60,"z":"eth_va"},
      {"t0":138,"lo":3744,"hi":3745.9,"v":50,"z":"eth_va"},
      {"t0":138,"lo":3742.2,"hi":3744,"v":47,"z":"eth_va"},
      {"t0":138,"lo":3740.3,"hi":3742.2,"v":40,"z":"eth_va"},
      {"t0":138,"lo":3738.5,"hi":3740.3,"v":34,"z":"eth_va"},
      {"t0":138,"lo":3735.9,"hi":3738.5,"v":20,"z":"eth_va"},
      {"t0":138,"lo":3733.9,"hi":3735.9,"v":17,"z":"eth_out"},
      {"t0":138,"lo":3731.6,"hi":3733.9,"v":10,"z":"eth_out"},
      {"t0":138,"lo":3728.8,"hi":3731.6,"v":24,"z":"eth_out"},
      {"t0":138,"lo":3726.5,"hi":3728.8,"v":30,"z":"eth_out"},
      {"t0":138,"lo":3724.2,"hi":3726.5,"v":14,"z":"eth_out"},
      {"t0":138,"lo":3721.5,"hi":3724.2,"v":7,"z":"eth_out"},
      {"t0":138,"lo":3718.7,"hi":3721.5,"v":14,"z":"eth_out"},
      {"t0":138,"lo":3716,"hi":3718.7,"v":20,"z":"eth_out"},
      {"t0":138,"lo":3712.7,"hi":3716,"v":14,"z":"eth_out"},
      {"t0":138,"lo":3709,"hi":3712.7,"v":7,"z":"eth_out"},
      {"t0":138,"lo":3705.7,"hi":3709,"v":2,"z":"eth_out"},

      {"t0":169,"lo":3775,"hi":3777.25,"v":2,"z":"rth_out"},
      {"t0":169,"lo":3772.5,"hi":3775,"v":9,"z":"rth_out"},
      {"t0":169,"lo":3770.5,"hi":3772.5,"v":12,"z":"rth_out"},
      {"t0":169,"lo":3768.2,"hi":3770.5,"v":16,"z":"rth_out"},
      {"t0":169,"lo":3765.8,"hi":3768.2,"v":9,"z":"rth_out"},
      {"t0":169,"lo":3764,"hi":3765.8,"v":19,"z":"rth_out"},
      {"t0":169,"lo":3762,"hi":3764,"v":26,"z":"rth_out"},
      {"t0":169,"lo":3759.2,"hi":3762,"v":16,"z":"rth_out"},
      {"t0":169,"lo":3756.5,"hi":3759.2,"v":19,"z":"rth_out"},
      {"t0":169,"lo":3754.2,"hi":3756.5,"v":22,"z":"rth_out"},
      {"t0":169,"lo":3751.9,"hi":3754.2,"v":9,"z":"rth_out"},
      {"t0":169,"lo":3749.1,"hi":3751.9,"v":14,"z":"rth_out"},
      {"t0":169,"lo":3745,"hi":3749.1,"v":22,"z":"rth_out"},
      {"t0":169,"lo":3743.1,"hi":3745,"v":19,"z":"rth_va"},
      {"t0":169,"lo":3741.2,"hi":3743.1,"v":39,"z":"rth_va"},
      {"t0":169,"lo":3739.4,"hi":3741.2,"v":49,"z":"rth_va"},
      {"t0":169,"lo":3737.6,"hi":3739.4,"v":39,"z":"rth_va"},
      {"t0":169,"lo":3735.8,"hi":3737.6,"v":29,"z":"rth_va"},
      {"t0":169,"lo":3733.9,"hi":3735.8,"v":36,"z":"rth_va"},
      {"t0":169,"lo":3732.1,"hi":3733.9,"v":42,"z":"rth_va"},
      {"t0":169,"lo":3730.3,"hi":3732.1,"v":49,"z":"rth_va"},
      {"t0":169,"lo":3728.4,"hi":3730.3,"v":46,"z":"rth_va"},
      {"t0":169,"lo":3726.6,"hi":3728.4,"v":62,"z":"rth_va"},
      {"t0":169,"lo":3724.7,"hi":3726.6,"v":42,"z":"rth_va"},
      {"t0":169,"lo":3722.9,"hi":3724.7,"v":59,"z":"rth_va"},
      {"t0":169,"lo":3721,"hi":3722.9,"v":16,"z":"rth_va"},
      {"t0":169,"lo":3719.2,"hi":3721,"v":22,"z":"rth_va"},
      {"t0":169,"lo":3717.4,"hi":3719.2,"v":32,"z":"rth_va"},
      {"t0":169,"lo":3715.5,"hi":3717.4,"v":56,"z":"rth_va"},
      {"t0":169,"lo":3713.7,"hi":3715.5,"v":29,"z":"rth_va"},
      {"t0":169,"lo":3711.8,"hi":3713.7,"v":16,"z":"rth_va"},
      {"t0":169,"lo":3709.5,"hi":3711.8,"v":22,"z":"rth_va"},
      {"t0":169,"lo":3707.5,"hi":3709.5,"v":20,"z":"rth_va"},
      {"t0":169,"lo":3705.4,"hi":3707.5,"v":19,"z":"rth_out"},
      {"t0":169,"lo":3703.5,"hi":3705.4,"v":12,"z":"rth_out"},
      {"t0":169,"lo":3701.3,"hi":3703.5,"v":9,"z":"rth_out"},
      {"t0":169,"lo":3699,"hi":3701.3,"v":6,"z":"rth_out"},
      {"t0":169,"lo":3697.25,"hi":3699,"v":2,"z":"rth_out"},

      {"t0":184,"lo":3772.3,"hi":3774,"v":3,"z":"eth_out"},
      {"t0":184,"lo":3769.8,"hi":3772.3,"v":30,"z":"eth_out"},
      {"t0":184,"lo":3768,"hi":3769.8,"v":37,"z":"eth_out"},
      {"t0":184,"lo":3765.8,"hi":3768,"v":43,"z":"eth_out"},
      {"t0":184,"lo":3763.5,"hi":3765.8,"v":60,"z":"eth_out"},
      {"t0":184,"lo":3761,"hi":3763.5,"v":50,"z":"eth_out"},
      {"t0":184,"lo":3758.3,"hi":3761,"v":40,"z":"eth_out"},
      {"t0":184,"lo":3755.5,"hi":3758.3,"v":30,"z":"eth_out"},
      {"t0":184,"lo":3752.8,"hi":3755.5,"v":23,"z":"eth_out"},
      {"t0":184,"lo":3749.1,"hi":3752.8,"v":33,"z":"eth_out"},
      {"t0":184,"lo":3747.7,"hi":3749.1,"v":27,"z":"eth_va"},
      {"t0":184,"lo":3745.9,"hi":3747.7,"v":30,"z":"eth_va"},
      {"t0":184,"lo":3744,"hi":3745.9,"v":43,"z":"eth_va"},
      {"t0":184,"lo":3742.2,"hi":3744,"v":57,"z":"eth_va"},
      {"t0":184,"lo":3740.3,"hi":3742.2,"v":53,"z":"eth_va"},
      {"t0":184,"lo":3738.5,"hi":3740.3,"v":63,"z":"eth_va"},
      {"t0":184,"lo":3736.7,"hi":3738.5,"v":60,"z":"eth_va"},
      {"t0":184,"lo":3734.8,"hi":3736.7,"v":40,"z":"eth_va"},
      {"t0":184,"lo":3733,"hi":3734.8,"v":50,"z":"eth_va"},
      {"t0":184,"lo":3731.2,"hi":3733,"v":53,"z":"eth_va"},
      {"t0":184,"lo":3729.3,"hi":3731.2,"v":33,"z":"eth_va"},
      {"t0":184,"lo":3727.5,"hi":3729.3,"v":30,"z":"eth_va"},
      {"t0":184,"lo":3725.6,"hi":3727.5,"v":17,"z":"eth_va"},
      {"t0":184,"lo":3723.8,"hi":3725.6,"v":33,"z":"eth_va"},
      {"t0":184,"lo":3721.9,"hi":3723.8,"v":20,"z":"eth_va"},
      {"t0":184,"lo":3720.1,"hi":3721.9,"v":37,"z":"eth_va"},
      {"t0":184,"lo":3718.3,"hi":3720.1,"v":43,"z":"eth_va"},
      {"t0":184,"lo":3716.4,"hi":3718.3,"v":33,"z":"eth_va"},
      {"t0":184,"lo":3714.6,"hi":3716.4,"v":50,"z":"eth_va"},
      {"t0":184,"lo":3712.7,"hi":3714.6,"v":77,"z":"eth_va"},
      {"t0":184,"lo":3710.9,"hi":3712.7,"v":87,"z":"eth_va"},
      {"t0":184,"lo":3709.1,"hi":3710.9,"v":100,"z":"eth_va"},
      {"t0":184,"lo":3707.2,"hi":3709.1,"v":80,"z":"eth_va"},
      {"t0":184,"lo":3705.4,"hi":3707.2,"v":77,"z":"eth_va"},
      {"t0":184,"lo":3703.8,"hi":3705.4,"v":43,"z":"eth_va"},
      {"t0":184,"lo":3702.5,"hi":3703.8,"v":27,"z":"eth_va"},
      {"t0":184,"lo":3701.5,"hi":3702.5,"v":3,"z":"eth_va"},

      {"t0":214,"lo":3739,"hi":3740.75,"v":1,"z":"rth_out"},
      {"t0":214,"lo":3735.7,"hi":3739,"v":9,"z":"rth_out"},
      {"t0":214,"lo":3732,"hi":3735.7,"v":16,"z":"rth_out"},
      {"t0":214,"lo":3728.4,"hi":3732,"v":26,"z":"rth_out"},
      {"t0":214,"lo":3725.1,"hi":3728.4,"v":33,"z":"rth_out"},
      {"t0":214,"lo":3722.75,"hi":3725.1,"v":26,"z":"rth_out"},
      {"t0":214,"lo":3720.1,"hi":3722.75,"v":36,"z":"rth_va"},
      {"t0":214,"lo":3718.3,"hi":3720.1,"v":39,"z":"rth_va"},
      {"t0":214,"lo":3716.4,"hi":3718.3,"v":46,"z":"rth_va"},
      {"t0":214,"lo":3714.6,"hi":3716.4,"v":56,"z":"rth_va"},
      {"t0":214,"lo":3712.7,"hi":3714.6,"v":36,"z":"rth_va"},
      {"t0":214,"lo":3710.9,"hi":3712.7,"v":43,"z":"rth_va"},
      {"t0":214,"lo":3708.8,"hi":3710.9,"v":49,"z":"rth_va"},
      {"t0":214,"lo":3706.5,"hi":3708.8,"v":53,"z":"rth_va"},
      {"t0":214,"lo":3704.5,"hi":3706.5,"v":43,"z":"rth_va"},
      {"t0":214,"lo":3702.6,"hi":3704.5,"v":36,"z":"rth_va"},
      {"t0":214,"lo":3700.8,"hi":3702.6,"v":33,"z":"rth_va"},
      {"t0":214,"lo":3699,"hi":3700.8,"v":46,"z":"rth_va"},
      {"t0":214,"lo":3697.1,"hi":3699,"v":39,"z":"rth_va"},
      {"t0":214,"lo":3695.2,"hi":3697.1,"v":36,"z":"rth_va"},
      {"t0":214,"lo":3693.4,"hi":3695.2,"v":33,"z":"rth_va"},
      {"t0":214,"lo":3691.75,"hi":3693.4,"v":26,"z":"rth_va"},
      {"t0":214,"lo":3688.4,"hi":3691.75,"v":23,"z":"rth_out"},
      {"t0":214,"lo":3685.6,"hi":3688.4,"v":19,"z":"rth_out"},
      {"t0":214,"lo":3682.9,"hi":3685.6,"v":16,"z":"rth_out"},
      {"t0":214,"lo":3680.1,"hi":3682.9,"v":9,"z":"rth_out"},
      {"t0":214,"lo":3677.8,"hi":3680.1,"v":4,"z":"rth_out"},
      {"t0":214,"lo":3676.75,"hi":3677.8,"v":1,"z":"rth_out"}
    ],
    "levels": [
      {"t0":31,"t1":45,"p":3697.75,"k":"high"},
      {"t0":31,"t1":45,"p":3502.00,"k":"low"},
      {"t0":31,"t1":45,"p":3697.75,"k":"vah"},
      {"t0":31,"t1":45,"p":3563.25,"k":"val"},
      {"t0":31,"t1":45,"p":3681.75,"k":"poc"},
      {"t0":77,"t1":91,"p":3725.25,"k":"high"},
      {"t0":77,"t1":91,"p":3591.25,"k":"low"},
      {"t0":77,"t1":91,"p":3644.50,"k":"vah"},
      {"t0":77,"t1":91,"p":3592.00,"k":"val"},
      {"t0":77,"t1":91,"p":3599.00,"k":"poc"},
      {"t0":123,"t1":137,"p":3702.50,"k":"high"},
      {"t0":123,"t1":137,"p":3661.50,"k":"low"},
      {"t0":123,"t1":137,"p":3696.00,"k":"vah"},
      {"t0":123,"t1":137,"p":3684.00,"k":"val"},
      {"t0":123,"t1":137,"p":3690.00,"k":"poc"},
      {"t0":169,"t1":183,"p":3777.25,"k":"high"},
      {"t0":169,"t1":183,"p":3697.25,"k":"low"},
      {"t0":169,"t1":183,"p":3745.00,"k":"vah"},
      {"t0":169,"t1":183,"p":3707.50,"k":"val"},
      {"t0":169,"t1":183,"p":3727.50,"k":"poc"},
      {"t0":214,"t1":229,"p":3740.75,"k":"high"},
      {"t0":214,"t1":229,"p":3676.75,"k":"low"},
      {"t0":214,"t1":229,"p":3722.75,"k":"vah"},
      {"t0":214,"t1":229,"p":3691.75,"k":"val"},
      {"t0":214,"t1":229,"p":3707.75,"k":"poc"}
    ],
    "ethpoc": [
      {"t0":0,"t1":18.1,"p":3515.25},
      {"t0":46,"t1":64.1,"p":3665.0},
      {"t0":92,"t1":110,"p":3640.0},
      {"t0":138,"t1":155.9,"p":3749.75},
      {"t0":184,"t1":202.1,"p":3710.0}
    ],
    "sums": [
      {"t0":0,"p":3503.75,"txt":"Σ: 610K / 141.00"},
      {"t0":31,"p":3502.0,"txt":"Σ: 2577K / 195.75"},
      {"t0":46,"p":3660.1,"txt":"Σ: 515K / 73.50"},
      {"t0":77,"p":3591.25,"txt":"Σ: 2133K / 134.00"},
      {"t0":93.5,"p":3594.5,"txt":"Σ: 316K / 67.75"},
      {"t0":123,"p":3661.5,"txt":"Σ: 1562K / 41.00"},
      {"t0":138,"p":3705.7,"txt":"Σ: 488K / 69.50"},
      {"t0":169,"p":3697.25,"txt":"Σ: 2203K / 80.00"},
      {"t0":184,"p":3701.5,"txt":"Σ: 404K / 72.50"},
      {"t0":214,"p":3676.75,"txt":"Σ: 1889K / 64.00"}
    ],
    "vwap": [
      {"s":1,"i":0,"p":3596.3},{"s":1,"i":1,"p":3595.5},{"s":1,"i":2,"p":3595.9},{"s":1,"i":4,"p":3596.8},{"s":1,"i":5,"p":3597.4},{"s":1,"i":7,"p":3597.1},{"s":1,"i":11,"p":3596.3},{"s":1,"i":13,"p":3595.9},{"s":1,"i":15,"p":3595.1},{"s":1,"i":17,"p":3593.8},{"s":1,"i":19,"p":3593.4},{"s":1,"i":21,"p":3594.0},{"s":1,"i":23,"p":3595.4},{"s":1,"i":26,"p":3598.2},{"s":1,"i":28,"p":3607.5},{"s":1,"i":29,"p":3588.6},{"s":1,"i":30,"p":3568.5},{"s":1,"i":31,"p":3555.2},{"s":1,"i":32,"p":3552.7},{"s":1,"i":33,"p":3553.1},{"s":1,"i":34,"p":3560.5},{"s":1,"i":35,"p":3576.6},{"s":1,"i":37,"p":3588.6},{"s":1,"i":40,"p":3596.6},{"s":1,"i":41,"p":3601.0},{"s":1,"i":43,"p":3610.0},{"s":1,"i":45,"p":3610.7},
      {"s":2,"i":46,"p":3681.9},{"s":2,"i":48,"p":3681.9},{"s":2,"i":50,"p":3679.2},{"s":2,"i":52,"p":3679.2},{"s":2,"i":53,"p":3684.0},{"s":2,"i":54,"p":3686.1},{"s":2,"i":56,"p":3689.3},{"s":2,"i":58,"p":3692.1},{"s":2,"i":61,"p":3693.9},{"s":2,"i":64,"p":3696.2},{"s":2,"i":66,"p":3693.4},{"s":2,"i":69,"p":3688.4},{"s":2,"i":72,"p":3689.3},{"s":2,"i":74,"p":3688.4},{"s":2,"i":75,"p":3693.4},{"s":2,"i":77,"p":3695.7},{"s":2,"i":79,"p":3686.1},{"s":2,"i":81,"p":3673.2},{"s":2,"i":82,"p":3668.2},{"s":2,"i":83,"p":3664.9},{"s":2,"i":84,"p":3662.5},{"s":2,"i":86,"p":3657.8},{"s":2,"i":88,"p":3653.0},{"s":2,"i":89,"p":3648.7},{"s":2,"i":91,"p":3647.3},
      {"s":3,"i":92,"p":3604.1},{"s":3,"i":94,"p":3606.0},{"s":3,"i":97,"p":3608.7},{"s":3,"i":99,"p":3609.7},{"s":3,"i":101,"p":3610.1},{"s":3,"i":105,"p":3610.6},{"s":3,"i":107,"p":3613.3},{"s":3,"i":109,"p":3616.1},{"s":3,"i":111,"p":3618.9},{"s":3,"i":114,"p":3620.3},{"s":3,"i":117,"p":3622.1},{"s":3,"i":120,"p":3623.9},{"s":3,"i":121,"p":3628.1},{"s":3,"i":122,"p":3635.4},{"s":3,"i":123,"p":3649.2},{"s":3,"i":124,"p":3661.2},{"s":3,"i":125,"p":3665.8},{"s":3,"i":128,"p":3670.4},{"s":3,"i":131,"p":3673.2},{"s":3,"i":134,"p":3675.5},{"s":3,"i":135,"p":3677.3},{"s":3,"i":137,"p":3677.8},
      {"s":4,"i":138,"p":3712.3},{"s":4,"i":141,"p":3715.5},{"s":4,"i":143,"p":3716.0},{"s":4,"i":148,"p":3715.3},{"s":4,"i":149,"p":3718.5},{"s":4,"i":150,"p":3726.0},{"s":4,"i":151,"p":3731.0},{"s":4,"i":154,"p":3734.8},{"s":4,"i":156,"p":3737.6},{"s":4,"i":158,"p":3738.7},{"s":4,"i":160,"p":3737.8},{"s":4,"i":163,"p":3738.5},{"s":4,"i":165,"p":3741.3},{"s":4,"i":167,"p":3745.9},{"s":4,"i":169,"p":3751.9},{"s":4,"i":170,"p":3748.6},{"s":4,"i":172,"p":3744.0},{"s":4,"i":174,"p":3740.3},{"s":4,"i":176,"p":3738.1},{"s":4,"i":179,"p":3736.7},{"s":4,"i":181,"p":3735.3},{"s":4,"i":183,"p":3735.3},
      {"s":5,"i":184,"p":3757.4},{"s":5,"i":185,"p":3759.5},{"s":5,"i":186,"p":3762.4},{"s":5,"i":189,"p":3763.8},{"s":5,"i":192,"p":3764.1},{"s":5,"i":196,"p":3763.8},{"s":5,"i":199,"p":3762.4},{"s":5,"i":201,"p":3759.7},{"s":5,"i":203,"p":3756.0},{"s":5,"i":205,"p":3752.8},{"s":5,"i":208,"p":3749.6},{"s":5,"i":210,"p":3746.3},{"s":5,"i":212,"p":3741.3},{"s":5,"i":214,"p":3734.8},{"s":5,"i":215,"p":3726.5},{"s":5,"i":217,"p":3726.1},{"s":5,"i":219,"p":3724.9},{"s":5,"i":221,"p":3722.0},{"s":5,"i":223,"p":3718.3},{"s":5,"i":225,"p":3715.5},{"s":5,"i":228,"p":3713.2},{"s":5,"i":229,"p":3713.26}
    ],
    "vgrid": [{"g":11},{"g":45},{"g":57},{"g":91},{"g":92},{"g":103},{"g":137},{"g":149},{"g":183},{"g":195}],
    "hgrid": [{"p":3500},{"p":3560},{"p":3620},{"p":3680},{"p":3740}],
    "tags": [{"p":3713.26,"k":"vwap"},{"p":3710.25,"k":"last"}]
  },
  "layer": [
    {
      "data": {"name": "hgrid"},
      "mark": {"type": "rule", "color": "#2c2c2c", "strokeWidth": 1},
      "encoding": {
        "y": {"field": "p", "type": "quantitative", "title": null, "scale": {"domain": [3485.0, 3786.37], "nice": false, "zero": false}}
      }
    },
    {
      "data": {"name": "vgrid"},
      "mark": {"type": "rule", "color": "#2c2c2c", "strokeWidth": 1},
      "encoding": {
        "x": {"field": "g", "type": "quantitative", "title": null, "scale": {"domain": [-1.54, 233.72], "nice": false, "zero": false}}
      }
    },
    {
      "data": {"name": "profile"},
      "transform": [{"calculate": "datum.t0 + datum.v / 7.473", "as": "t1"}],
      "mark": {"type": "rect"},
      "encoding": {
        "x": {"field": "t0", "type": "quantitative", "title": null, "scale": {"domain": [-1.54, 233.72], "nice": false, "zero": false}},
        "x2": {"field": "t1"},
        "y": {"field": "lo", "type": "quantitative", "title": null, "scale": {"domain": [3485.0, 3786.37], "nice": false, "zero": false}},
        "y2": {"field": "hi"},
        "color": {"field": "z", "type": "nominal", "legend": null, "scale": {"domain": ["eth_va", "eth_out", "rth_va", "rth_out"], "range": ["#8bbfe2", "#56697c", "#1f7ee0", "#2a5683"]}}
      }
    },
    {
      "data": {"name": "levels"},
      "mark": {"type": "rule", "strokeWidth": 1},
      "encoding": {
        "x": {"field": "t0", "type": "quantitative", "title": null, "scale": {"domain": [-1.54, 233.72], "nice": false, "zero": false}},
        "x2": {"field": "t1"},
        "y": {"field": "p", "type": "quantitative", "title": null, "scale": {"domain": [3485.0, 3786.37], "nice": false, "zero": false}},
        "color": {"field": "k", "type": "nominal", "legend": null, "scale": {"domain": ["high", "low", "vah", "val", "poc"], "range": ["#8a8a8a", "#8a8a8a", "#2e86de", "#2e86de", "#d6d62a"]}},
        "strokeDash": {"condition": {"test": "datum.k == 'poc'", "value": [1, 0]}, "value": [3, 2]}
      }
    },
    {
      "data": {"name": "candles"},
      "mark": {"type": "rule", "color": "#b8b8b8", "strokeWidth": 1},
      "encoding": {
        "x": {"field": "i", "type": "quantitative", "title": null, "scale": {"domain": [-1.54, 233.72], "nice": false, "zero": false}},
        "y": {"field": "l", "type": "quantitative", "title": null, "scale": {"domain": [3485.0, 3786.37], "nice": false, "zero": false}},
        "y2": {"field": "h"}
      }
    },
    {
      "data": {"name": "candles"},
      "mark": {"type": "bar", "size": 5, "stroke": "#e0e0e0", "strokeWidth": 0.6, "strokeOpacity": 0.55},
      "encoding": {
        "x": {"field": "i", "type": "quantitative", "title": null, "scale": {"domain": [-1.54, 233.72], "nice": false, "zero": false},
          "axis": {"orient": "bottom", "values": [11, 57, 92, 103, 149, 195], "title": null, "grid": false,
            "labelExpr": "datum.value == 11 ? 'Oct 13' : datum.value == 57 ? 'Oct 14' : datum.value == 92 ? 'Oct 16' : datum.value == 103 ? 'Oct 17' : datum.value == 149 ? 'Oct 18' : 'Oct 19'",
            "labelFont": "Liberation Sans Narrow, DejaVu Sans Condensed, Liberation Sans", "labelFontSize": 11.5, "labelColor": "#b4b4b4",
            "tickColor": "#9a9a9a", "tickSize": 4, "domainColor": "#9a9a9a", "labelPadding": 6}},
        "y": {"field": "o", "type": "quantitative", "title": null, "scale": {"domain": [3485.0, 3786.37], "nice": false, "zero": false},
          "axis": {"orient": "right", "values": [3500, 3520, 3540, 3560, 3580, 3600, 3620, 3640, 3660, 3680, 3700, 3720, 3740, 3760, 3780],
            "format": ".2f", "title": null, "grid": false, "labelFont": "Liberation Sans", "labelFontSize": 11, "labelColor": "#b4b4b4",
            "tickColor": "#9a9a9a", "tickSize": 5, "domainColor": "#9a9a9a", "labelPadding": 3}},
        "y2": {"field": "c"},
        "color": {
          "condition": [
            {"test": "datum.c - datum.o > 0.25", "value": "#3cc93c"},
            {"test": "datum.o - datum.c > 0.25", "value": "#ee1c1c"}
          ],
          "value": "#d0d0d0"
        }
      }
    },
    {
      "data": {"name": "profile"},
      "transform": [{"filter": "datum.z == 'eth_va' || datum.z == 'eth_out'"}, {"calculate": "datum.t0 + datum.v / 7.473", "as": "t1"}],
      "mark": {"type": "rect", "opacity": 0.5},
      "encoding": {
        "x": {"field": "t0", "type": "quantitative", "title": null, "scale": {"domain": [-1.54, 233.72], "nice": false, "zero": false}},
        "x2": {"field": "t1"},
        "y": {"field": "lo", "type": "quantitative", "title": null, "scale": {"domain": [3485.0, 3786.37], "nice": false, "zero": false}},
        "y2": {"field": "hi"},
        "color": {"field": "z", "type": "nominal", "legend": null, "scale": {"domain": ["eth_va", "eth_out", "rth_va", "rth_out"], "range": ["#8bbfe2", "#56697c", "#1f7ee0", "#2a5683"]}}
      }
    },
    {
      "data": {"name": "vwap"},
      "mark": {"type": "line", "color": "#c47cc8", "strokeWidth": 1.4, "interpolate": "monotone"},
      "encoding": {
        "x": {"field": "i", "type": "quantitative", "title": null, "scale": {"domain": [-1.54, 233.72], "nice": false, "zero": false}},
        "y": {"field": "p", "type": "quantitative", "title": null, "scale": {"domain": [3485.0, 3786.37], "nice": false, "zero": false}},
        "detail": {"field": "s", "type": "nominal"}
      }
    },
    {
      "data": {"name": "ethpoc"},
      "mark": {"type": "rule", "color": "#d6d62a", "strokeWidth": 1.2},
      "encoding": {
        "x": {"field": "t0", "type": "quantitative", "title": null, "scale": {"domain": [-1.54, 233.72], "nice": false, "zero": false}},
        "x2": {"field": "t1"},
        "y": {"field": "p", "type": "quantitative", "title": null, "scale": {"domain": [3485.0, 3786.37], "nice": false, "zero": false}}
      }
    },
    {
      "data": {"name": "levels"},
      "mark": {"type": "text", "align": "right", "baseline": "bottom", "dy": -1, "font": "Liberation Sans", "fontSize": 11.5},
      "encoding": {
        "x": {"field": "t1", "type": "quantitative", "title": null, "scale": {"domain": [-1.54, 233.72], "nice": false, "zero": false}},
        "y": {"field": "p", "type": "quantitative", "title": null, "scale": {"domain": [3485.0, 3786.37], "nice": false, "zero": false}},
        "text": {"field": "p", "type": "quantitative", "format": ".2f"},
        "color": {"field": "k", "type": "nominal", "legend": null, "scale": {"domain": ["high", "low", "vah", "val", "poc"], "range": ["#8f8f8f", "#8f8f8f", "#3a8ee6", "#3a8ee6", "#dede30"]}}
      }
    },
    {
      "data": {"name": "sums"},
      "mark": {"type": "text", "align": "left", "baseline": "top", "dy": 2, "dx": 2, "font": "Liberation Sans", "fontSize": 11.5, "color": "#1f6b1f"},
      "encoding": {
        "x": {"field": "t0", "type": "quantitative", "title": null, "scale": {"domain": [-1.54, 233.72], "nice": false, "zero": false}},
        "y": {"field": "p", "type": "quantitative", "title": null, "scale": {"domain": [3485.0, 3786.37], "nice": false, "zero": false}},
        "text": {"field": "txt", "type": "nominal"}
      }
    },
    {
      "data": {"name": "tags"},
      "mark": {"type": "point", "filled": true, "shape": "M -1.05 0 L -0.92 -0.23 L 1 -0.23 L 1 0.23 L -0.92 0.23 Z", "size": 3136, "opacity": 1, "strokeWidth": 0},
      "encoding": {
        "x": {"datum": 236.9, "type": "quantitative", "title": null, "scale": {"domain": [-1.54, 233.72], "nice": false, "zero": false}},
        "y": {"field": "p", "type": "quantitative", "title": null, "scale": {"domain": [3485.0, 3786.37], "nice": false, "zero": false}},
        "color": {"field": "k", "type": "nominal", "legend": null, "scale": {"domain": ["vwap", "last"], "range": ["#e58ae8", "#fbf5da"]}}
      }
    },
    {
      "data": {"name": "tags"},
      "mark": {"type": "text", "align": "center", "baseline": "middle", "font": "Liberation Sans", "fontSize": 11.5},
      "encoding": {
        "x": {"datum": 236.9, "type": "quantitative", "title": null, "scale": {"domain": [-1.54, 233.72], "nice": false, "zero": false}},
        "y": {"field": "p", "type": "quantitative", "title": null, "scale": {"domain": [3485.0, 3786.37], "nice": false, "zero": false}},
        "text": {"field": "p", "type": "quantitative", "format": ".2f"},
        "color": {"field": "k", "type": "nominal", "legend": null, "scale": {"domain": ["vwap", "last"], "range": ["#6a206a", "#222222"]}}
      }
    }
  ],
  "resolve": {"scale": {"color": "independent"}}
}
